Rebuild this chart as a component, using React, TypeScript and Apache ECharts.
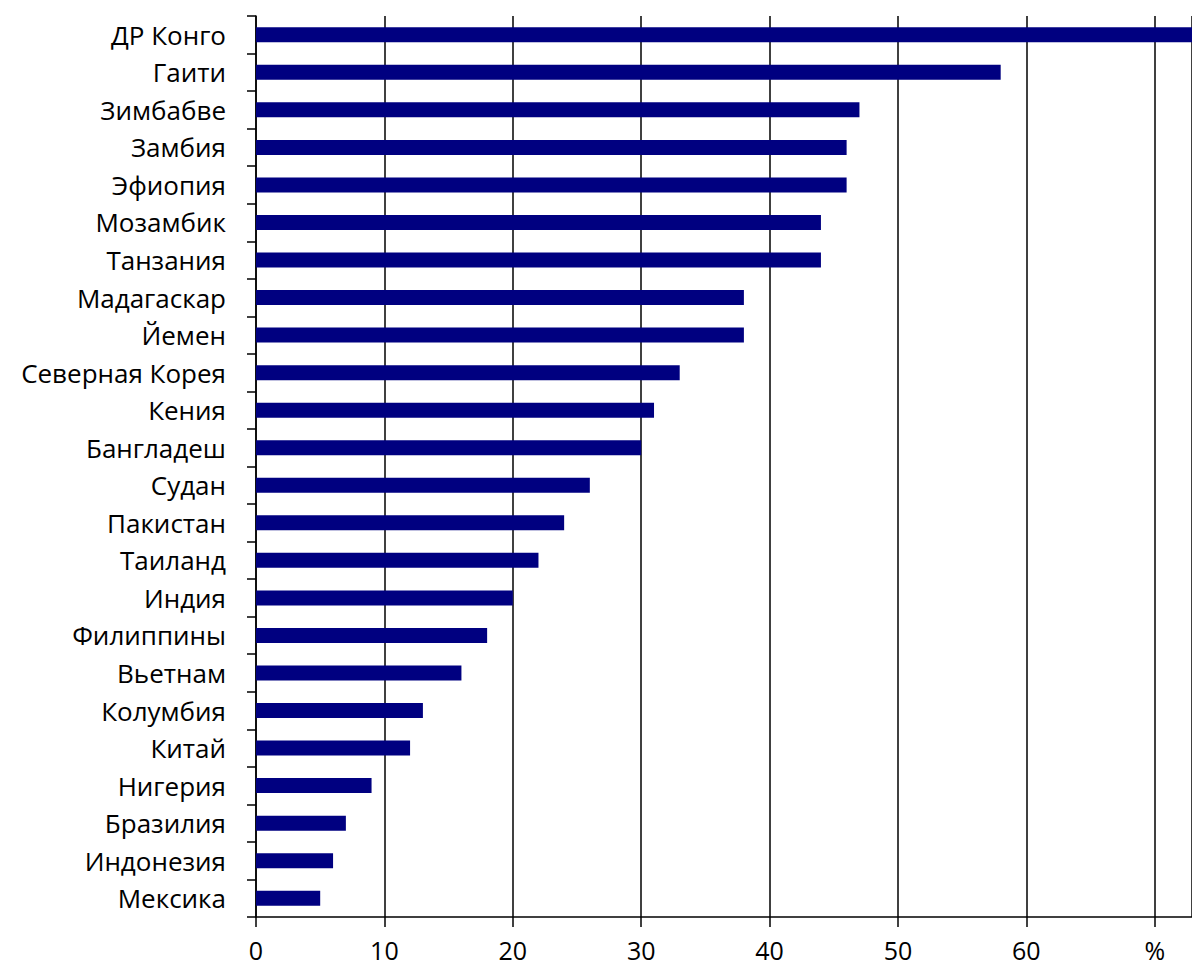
import React, { useEffect, useRef } from "react";
import * as echarts from "echarts";

const countries = [
  "ДР Конго", "Гаити", "Зимбабве", "Замбия", "Эфиопия", "Мозамбик", "Танзания",
  "Мадагаскар", "Йемен", "Северная Корея", "Кения", "Бангладеш", "Судан", "Пакистан",
  "Таиланд", "Индия", "Филиппины", "Вьетнам", "Колумбия", "Китай", "Нигерия",
  "Бразилия", "Индонезия", "Мексика",
];
const values = [
  73, 58, 47, 46, 46, 44, 44, 38, 38, 33, 31, 30, 26, 24, 22, 20, 18, 16, 13, 12, 9, 7, 6, 5,
];
const xTickLabels: Record<number, string> = {
  0: "0", 10: "10", 20: "20", 30: "30", 40: "40", 50: "50", 60: "60", 70: "%",
};

export default function App() {
  const ref = useRef<HTMLDivElement>(null);
  useEffect(() => {
    if (!ref.current) return;
    const chart = echarts.init(ref.current, null, { renderer: "svg" });
    chart.setOption({
      animation: false,
      backgroundColor: "#ffffff",
      grid: { left: 256, right: 0, top: 16, bottom: 53, containLabel: false },
      xAxis: {
        type: "value",
        min: 0,
        max: 72.9,
        interval: 10,
        axisLine: { show: true, lineStyle: { color: "#000", width: 1.5 } },
        axisTick: { show: true, length: 10, lineStyle: { color: "#000", width: 1.5 } },
        splitLine: { show: true, lineStyle: { color: "#000", width: 1.5 } },
        axisLabel: {
          margin: 20,
          color: "#000",
          fontSize: 25,
          lineHeight: 25,
          fontFamily: "Open Sans",
          formatter: (v: number) => xTickLabels[Math.round(v)] ?? "",
          showMaxLabel: false,
        },
      },
      yAxis: {
        type: "category",
        data: countries,
        inverse: true,
        axisLine: { show: true, lineStyle: { color: "#000", width: 1.5 } },
        axisTick: { show: true, length: 9, lineStyle: { color: "#000", width: 1.5 } },
        splitLine: { show: false },
        axisLabel: {
          margin: 30,
          color: "#000",
          fontSize: 26,
          fontFamily: "Open Sans",
        },
      },
      series: [
        {
          type: "bar",
          data: values,
          barWidth: 15,
          itemStyle: { color: "#000080" },
          clip: true,
        },
      ],
    });
    return () => chart.dispose();
  }, []);
  return (
    <div
      ref={ref}
      style={{ position: "fixed", left: 0, top: 0, width: 1192, height: 970 }}
    />
  );
}
